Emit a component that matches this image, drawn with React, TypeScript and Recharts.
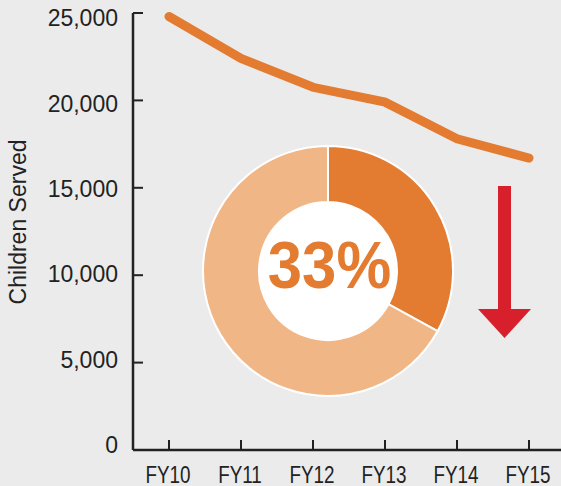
import { LineChart, Line, XAxis, YAxis, PieChart, Pie, Cell } from "recharts";

// ── data ─────────────────────────────────────────────────────────────────────

const years = ["FY10", "FY11", "FY12", "FY13", "FY14", "FY15"];
const childrenServed = [24800, 22400, 20750, 19900, 17800, 16700];
const yTicks = [0, 5000, 10000, 15000, 20000, 25000];

const shareNames = ["Decline", "Rest"];
const shareValues = [33, 67];
const shareLabel = "33%";

// ── palette ──────────────────────────────────────────────────────────────────

const BG = "#ebebeb";
const ORANGE = "#e37b31";
const ORANGE_LIGHT = "#f1b686";
const INK = "#222222";
const RED = "#d81f2c";
const FONT = "'Liberation Sans', Arial, sans-serif";

const W = 561;
const H = 486;

const lineData = years.map((year, i) => ({ year, served: childrenServed[i] }));
const pieData = shareNames.map((name, i) => ({ name, value: shareValues[i] }));
const holeData = [{ name: "hole", value: 1 }];

// ticks drawn inside the axes, labels outside
// eslint-disable-next-line @typescript-eslint/no-explicit-any
function YTick({ x, y, payload }: any) {
  // the source labels drift slightly off their ticks (down at top, up at bottom)
  const drift = 10 * (Number(payload.value) / 25000) - 5;
  return (
    <g>
      <line x1={x} x2={x + 10} y1={y} y2={y} stroke={INK} strokeWidth={2} />
      <text x={x - 15} y={y + drift} dy="0.36em" textAnchor="end" fontSize={23} fill={INK} fontFamily={FONT}>
        {Number(payload.value).toLocaleString("en-US")}
      </text>
    </g>
  );
}

// eslint-disable-next-line @typescript-eslint/no-explicit-any
function XTick({ x, y, payload }: any) {
  return (
    <g>
      <line x1={x} x2={x} y1={y} y2={y - 10} stroke={INK} strokeWidth={2} />
      <text
        transform={`translate(${x - 1},${y + 33}) scale(0.82,1)`}
        textAnchor="middle"
        fontSize={23}
        fill={INK}
        fontFamily={FONT}
      >
        {payload.value}
      </text>
    </g>
  );
}

export default function App() {
  return (
    <div style={{ position: "absolute", left: 0, top: 0, width: W, height: H, background: BG, overflow: "hidden" }}>
      <LineChart width={W} height={H} data={lineData} margin={{ top: 13, right: 0, left: 73, bottom: 6 }}>
        <XAxis
          dataKey="year"
          scale="point"
          padding={{ left: 36, right: 32 }}
          height={30}
          interval={0}
          tickSize={0}
          tickMargin={0}
          tickLine={false}
          axisLine={{ stroke: INK, strokeWidth: 2.5 }}
          tick={<XTick />}
        />
        <YAxis
          type="number"
          domain={[0, 25000]}
          ticks={yTicks}
          interval={0}
          width={60}
          tickSize={0}
          tickMargin={0}
          tickLine={false}
          axisLine={{ stroke: INK, strokeWidth: 2.5 }}
          tick={<YTick />}
        />
        <Line
          dataKey="served"
          type="linear"
          stroke={ORANGE}
          strokeWidth={9}
          strokeLinecap="round"
          strokeLinejoin="miter"
          dot={false}
          activeDot={false}
          isAnimationActive={false}
        />
      </LineChart>

      <svg width={W} height={H} style={{ position: "absolute", left: 0, top: 0 }}>
        <text
          transform="translate(26,222) rotate(-90)"
          textAnchor="middle"
          fontSize={23}
          fill={INK}
          fontFamily={FONT}
        >
          Children Served
        </text>
        <polygon
          points="498,186 511,186 511,309 531,309 504.5,338 478,309 498,309"
          fill={RED}
        />
      </svg>

      <div style={{ position: "absolute", left: 0, top: 0 }}>
        <PieChart width={W} height={H} margin={{ top: 0, right: 0, bottom: 0, left: 0 }}>
          <Pie
            data={pieData}
            dataKey="value"
            cx={328}
            cy={271}
            innerRadius={69}
            outerRadius={125}
            startAngle={90}
            endAngle={-270}
            stroke="#ffffff"
            strokeWidth={2}
            isAnimationActive={false}
          >
            <Cell fill={ORANGE} />
            <Cell fill={ORANGE_LIGHT} />
          </Pie>
          <Pie
            data={holeData}
            dataKey="value"
            cx={328}
            cy={271}
            innerRadius={0}
            outerRadius={69}
            fill="#ffffff"
            stroke="none"
            isAnimationActive={false}
          />
        </PieChart>
      </div>

      <svg width={W} height={H} style={{ position: "absolute", left: 0, top: 0 }}>
        <text
          transform="translate(329.5,288) scale(0.92,1)"
          textAnchor="middle"
          fontSize={67}
          fontWeight="bold"
          fill={ORANGE}
          fontFamily={FONT}
        >
          {shareLabel}
        </text>
      </svg>
    </div>
  );
}
